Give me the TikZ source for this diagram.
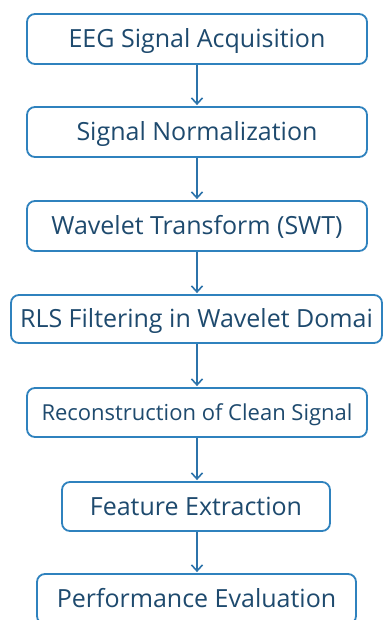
\documentclass[tikz,border=0pt]{standalone}
\usepackage{fontspec}
\setmainfont{Open Sans}
\usetikzlibrary{arrows.meta}
\definecolor{boxblue}{HTML}{2F82BE}
\definecolor{txtblue}{HTML}{1E4A6E}
\definecolor{arrblue}{HTML}{2C73AA}
\tikzset{
  stepbox/.style={draw=boxblue, line width=1.8pt, rounded corners=8pt, fill=white,
    inner sep=0pt, minimum height=50pt, text=txtblue, font=\fontsize{25}{28}\selectfont,
    text height=17pt, text depth=0pt, anchor=center},
  flowarrow/.style={draw=arrblue, line width=1.6pt, -{Straight Barb[length=6pt,width=11pt,line width=1.6pt]}, shorten >=1pt}
}
\begin{document}
\begin{tikzpicture}[x=1pt,y=-1pt]
\useasboundingbox (0,0) rectangle (383,620);
\clip (0,0) rectangle (383,620);
\fill[white] (0,0) rectangle (383,620);
\node[stepbox, minimum width=340pt] (b1) at (197,39) {EEG Signal Acquisition};
\node[stepbox, minimum width=340pt] (b2) at (197,132) {Signal Normalization};
\node[stepbox, minimum width=340pt] (b3) at (197,226) {Wavelet Transform (SWT)};
\node[stepbox, minimum width=371pt, minimum height=48pt] (b4) at (196.5,319) {RLS Filtering in Wavelet Domai};
\node[stepbox, minimum width=340pt, minimum height=49pt, font=\fontsize{22}{25}\selectfont, text height=15pt] (b5) at (197,412.5) {Reconstruction of Clean Signal};
\node[stepbox, minimum width=268pt, minimum height=49pt] (b6) at (196,506.5) {Feature Extraction};
\node[stepbox, minimum width=319pt] (b7) at (196.5,599) {Performance Evaluation};
\draw[flowarrow] (b1.south -| 197,0) -- (b2.north -| 197,0);
\draw[flowarrow] (b2.south -| 197,0) -- (b3.north -| 197,0);
\draw[flowarrow] (b3.south -| 197,0) -- (b4.north -| 197,0);
\draw[flowarrow] (b4.south -| 197,0) -- (b5.north -| 197,0);
\draw[flowarrow] (b5.south -| 197,0) -- (b6.north -| 197,0);
\draw[flowarrow] (b6.south -| 197,0) -- (b7.north -| 197,0);
\end{tikzpicture}
\end{document}
